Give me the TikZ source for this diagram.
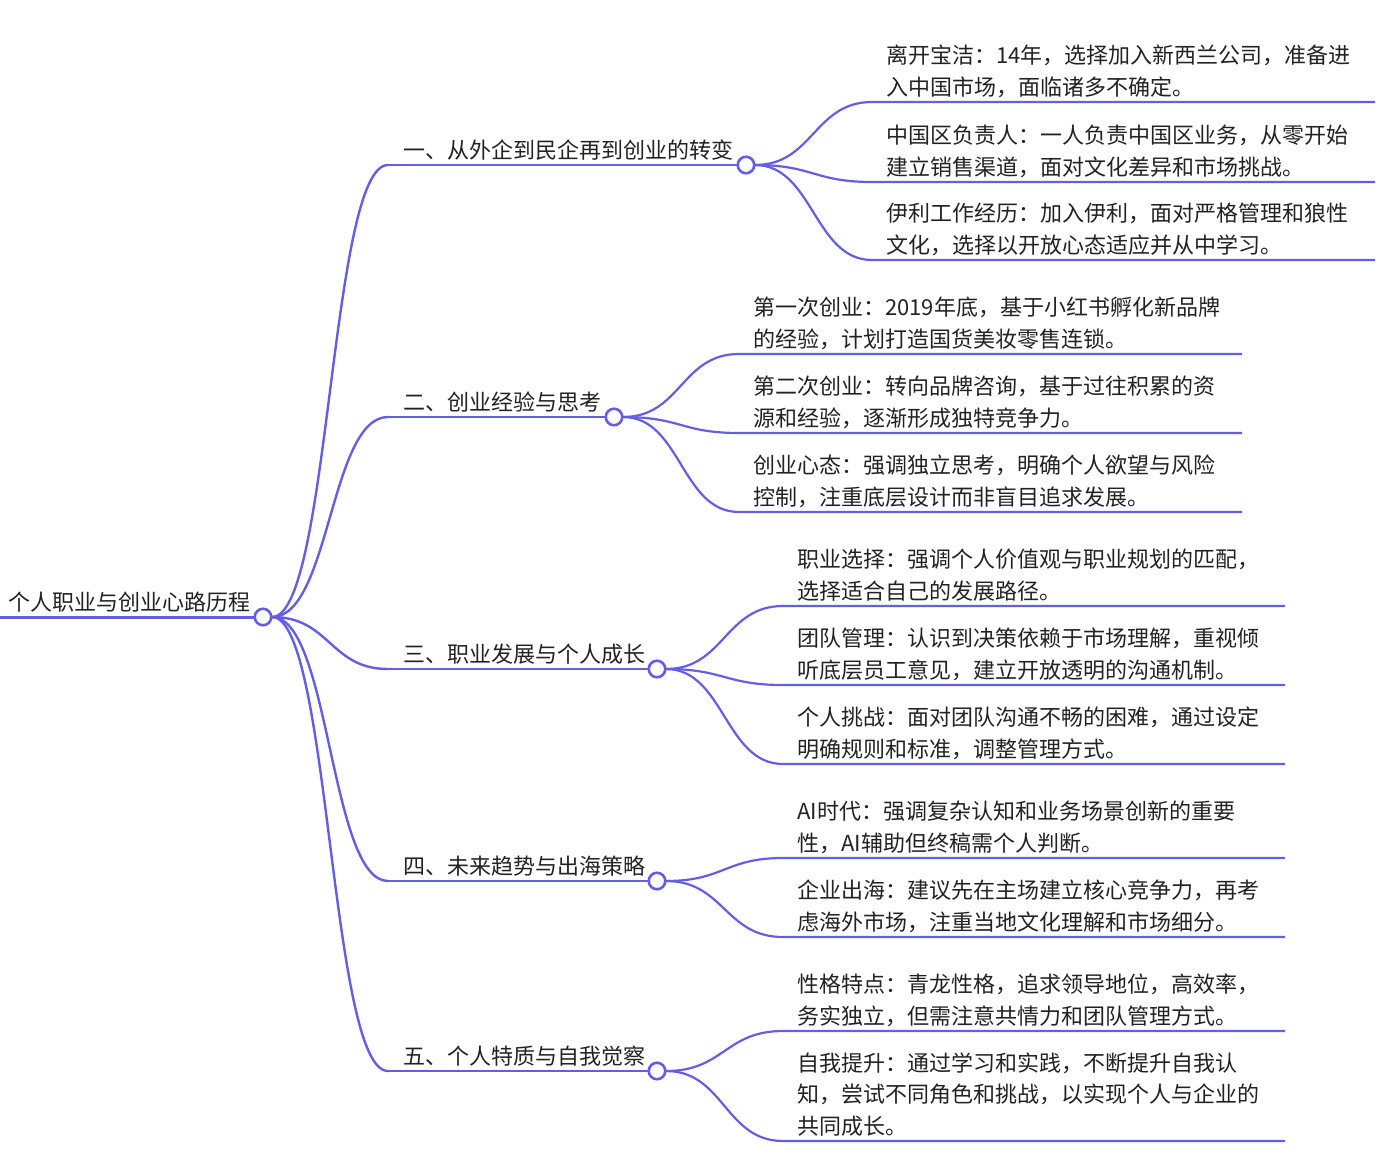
\documentclass[tikz,border=0pt]{standalone}
\usepackage{fontspec}
\setmainfont{Noto Sans CJK SC}
\usetikzlibrary{calc}
\definecolor{mm}{RGB}{100,95,226}
\definecolor{txt}{RGB}{34,34,34}
\tikzset{
  lnk/.style={draw=mm, line width=2.4pt, line cap=round},
  kid/.style={draw=mm, line width=2.2pt},
  rootln/.style={draw=mm, line width=3pt},
  dot/.style={circle, draw=mm, fill=white, line width=2.6pt, minimum size=16.5pt, inner sep=0pt},
  lbl/.style={anchor=south west, inner sep=0pt, text depth=0pt, align=left,
              font=\fontsize{22}{31.5}\selectfont, text=txt},
}
\begin{document}
\begin{tikzpicture}[x=1pt,y=-1pt]
\useasboundingbox (0,0) rectangle (1390,1154);

% ---------- root ----------
\coordinate (r0) at (0,617);
\node[lbl] (rt) at (8,610.4) {个人职业与创业心路历程};

% ---------- branch anchors ----------
\coordinate (b1s) at (388,165);
\coordinate (b2s) at (388,417);
\coordinate (b3s) at (388,669);
\coordinate (b4s) at (388,881);
\coordinate (b5s) at (388,1071);

\node[lbl] (b1t) at (403,158.4) {一、从外企到民企再到创业的转变};
\node[lbl] (b2t) at (403,410.4) {二、创业经验与思考};
\node[lbl] (b3t) at (403,662.4) {三、职业发展与个人成长};
\node[lbl] (b4t) at (403,874.4) {四、未来趋势与出海策略};
\node[lbl] (b5t) at (403,1064.4) {五、个人特质与自我觉察};

% ---------- children of branch 1 ----------
\coordinate (c11s) at (872,102);  \coordinate (c11e) at (1375,102);
\coordinate (c12s) at (872,182);  \coordinate (c12e) at (1375,182);
\coordinate (c13s) at (872,260);  \coordinate (c13e) at (1375,260);
\node[lbl] (c11t) at (886,95.4) {离开宝洁：14年，选择加入新西兰公司，准备进\\入中国市场，面临诸多不确定。};
\node[lbl] (c12t) at (886,175.4) {中国区负责人：一人负责中国区业务，从零开始\\建立销售渠道，面对文化差异和市场挑战。};
\node[lbl] (c13t) at (886,253.4) {伊利工作经历：加入伊利，面对严格管理和狼性\\文化，选择以开放心态适应并从中学习。};

% ---------- children of branch 2 ----------
\coordinate (c21s) at (739,354);  \coordinate (c21e) at (1242,354);
\coordinate (c22s) at (739,433);  \coordinate (c22e) at (1242,433);
\coordinate (c23s) at (739,512);  \coordinate (c23e) at (1242,512);
\node[lbl] (c21t) at (753,347.4) {第一次创业：2019年底，基于小红书孵化新品牌\\的经验，计划打造国货美妆零售连锁。};
\node[lbl] (c22t) at (753,426.4) {第二次创业：转向品牌咨询，基于过往积累的资\\源和经验，逐渐形成独特竞争力。};
\node[lbl] (c23t) at (753,505.4) {创业心态：强调独立思考，明确个人欲望与风险\\控制，注重底层设计而非盲目追求发展。};

% ---------- children of branch 3 ----------
\coordinate (c31s) at (783,606);  \coordinate (c31e) at (1285,606);
\coordinate (c32s) at (783,685);  \coordinate (c32e) at (1285,685);
\coordinate (c33s) at (783,764);  \coordinate (c33e) at (1285,764);
\node[lbl] (c31t) at (797,599.4) {职业选择：强调个人价值观与职业规划的匹配，\\选择适合自己的发展路径。};
\node[lbl] (c32t) at (797,678.4) {团队管理：认识到决策依赖于市场理解，重视倾\\听底层员工意见，建立开放透明的沟通机制。};
\node[lbl] (c33t) at (797,757.4) {个人挑战：面对团队沟通不畅的困难，通过设定\\明确规则和标准，调整管理方式。};

% ---------- children of branch 4 ----------
\coordinate (c41s) at (783,858);  \coordinate (c41e) at (1285,858);
\coordinate (c42s) at (783,937);  \coordinate (c42e) at (1285,937);
\node[lbl] (c41t) at (797,851.4) {AI时代：强调复杂认知和业务场景创新的重要\\性，AI辅助但终稿需个人判断。};
\node[lbl] (c42t) at (797,930.4) {企业出海：建议先在主场建立核心竞争力，再考\\虑海外市场，注重当地文化理解和市场细分。};

% ---------- children of branch 5 ----------
\coordinate (c51s) at (783,1031); \coordinate (c51e) at (1285,1031);
\coordinate (c52s) at (783,1141); \coordinate (c52e) at (1285,1141);
\node[lbl] (c51t) at (797,1024.4) {性格特点：青龙性格，追求领导地位，高效率，\\务实独立，但需注意共情力和团队管理方式。};
\node[lbl] (c52t) at (797,1134.4) {自我提升：通过学习和实践，不断提升自我认\\知，尝试不同角色和挑战，以实现个人与企业的\\共同成长。};

% ---------- connectors (drawn before circles) ----------
\coordinate (rc) at (263,617);
\draw[rootln] (r0) -- (rc);
\foreach \b in {1,...,5}{
  \draw[lnk] (272,617) .. controls +(58,0) and +(-58,0) .. (b\b s);
}
\coordinate (b1c) at (746,165);
\coordinate (b2c) at (614,417);
\coordinate (b3c) at (657,669);
\coordinate (b4c) at (657,881);
\coordinate (b5c) at (657,1071);
\foreach \b in {1,...,5}{ \draw[lnk] (b\b s) -- (b\b c); }

\foreach \k in {1,2,3}{
  \draw[kid] ($(b1c)+(9,0)$) .. controls +(58,0) and +(-58,0) .. (c1\k s) -- (c1\k e);
  \draw[kid] ($(b2c)+(9,0)$) .. controls +(58,0) and +(-58,0) .. (c2\k s) -- (c2\k e);
  \draw[kid] ($(b3c)+(9,0)$) .. controls +(58,0) and +(-58,0) .. (c3\k s) -- (c3\k e);
}
\foreach \k in {1,2}{
  \draw[kid] ($(b4c)+(9,0)$) .. controls +(58,0) and +(-58,0) .. (c4\k s) -- (c4\k e);
  \draw[kid] ($(b5c)+(9,0)$) .. controls +(58,0) and +(-58,0) .. (c5\k s) -- (c5\k e);
}

% ---------- circles ----------
\node[dot] (r) at (rc) {};
\node[dot] (b1) at (b1c) {};
\node[dot] (b2) at (b2c) {};
\node[dot] (b3) at (b3c) {};
\node[dot] (b4) at (b4c) {};
\node[dot] (b5) at (b5c) {};
\end{tikzpicture}
\end{document}
